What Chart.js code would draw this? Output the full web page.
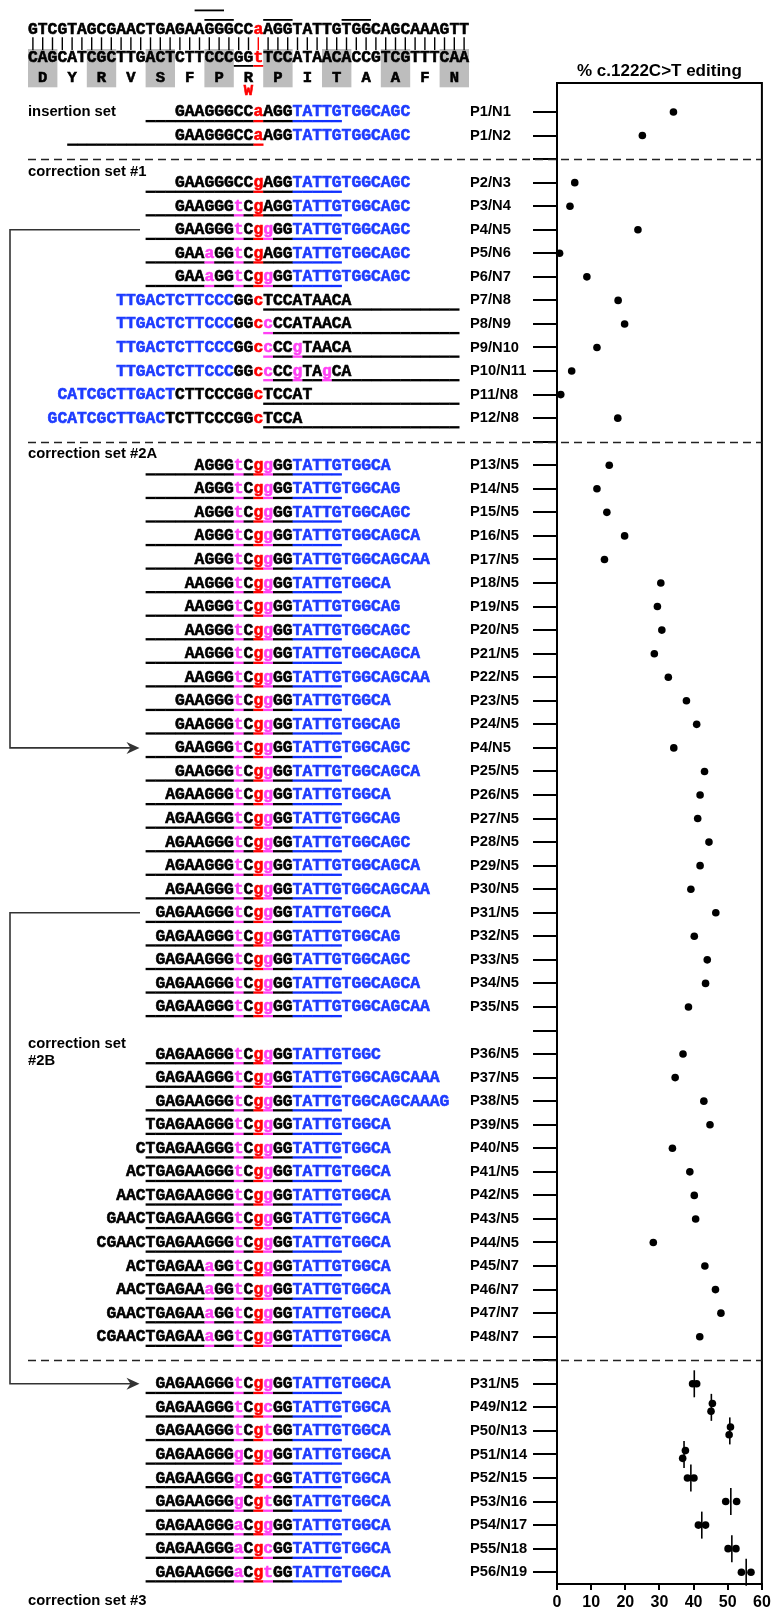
<!DOCTYPE html>
<html>
<head>
<meta charset="utf-8">
<script src="https://cdn.jsdelivr.net/npm/chart.js@4.4.1/dist/chart.umd.min.js"></script>
<style>
  html, body { margin: 0; padding: 0; background: #fff; }
  canvas { display: block; }
</style>
</head>
<body>
<canvas id="editingChart" width="777" height="1609"></canvas>
<script>
// one entry per row slot, '' / null = spacer row
const rowLabels = [
  'P1/N1', 'P1/N2', '',
  'P2/N3', 'P3/N4', 'P4/N5', 'P5/N6', 'P6/N7', 'P7/N8', 'P8/N9', 'P9/N10', 'P10/N11', 'P11/N8', 'P12/N8', '',
  'P13/N5', 'P14/N5', 'P15/N5', 'P16/N5', 'P17/N5', 'P18/N5', 'P19/N5', 'P20/N5', 'P21/N5', 'P22/N5',
  'P23/N5', 'P24/N5', 'P4/N5', 'P25/N5', 'P26/N5', 'P27/N5', 'P28/N5', 'P29/N5', 'P30/N5',
  'P31/N5', 'P32/N5', 'P33/N5', 'P34/N5', 'P35/N5', '',
  'P36/N5', 'P37/N5', 'P38/N5', 'P39/N5', 'P40/N5', 'P41/N5', 'P42/N5', 'P43/N5', 'P44/N5',
  'P45/N7', 'P46/N7', 'P47/N7', 'P48/N7', '',
  'P31/N5', 'P49/N12', 'P50/N13', 'P51/N14', 'P52/N15', 'P53/N16', 'P54/N17', 'P55/N18', 'P56/N19'
];

// [..] = blue stretch, * = edited base (red), other lowercase = extra edits
const sequences = [
  'GAAGGGCC*aAGG[TATTGTGGCAGC]', 'GAAGGGCC*aAGG[TATTGTGGCAGC]', null,
  'GAAGGGCC*gAGG[TATTGTGGCAGC]', 'GAAGGGtC*gAGG[TATTGTGGCAGC]', 'GAAGGGtC*ggGG[TATTGTGGCAGC]',
  'GAAaGGtC*gAGG[TATTGTGGCAGC]', 'GAAaGGtC*ggGG[TATTGTGGCAGC]',
  '[TTGACTCTTCCC]GG*cTCCATAACA', '[TTGACTCTTCCC]GG*ccCCATAACA', '[TTGACTCTTCCC]GG*ccCCgTAACA',
  '[TTGACTCTTCCC]GG*ccCCgTAgCA', '[CATCGCTTGACT]CTTCCCGG*cTCCAT', '[GCATCGCTTGAC]TCTTCCCGG*cTCCA', null,
  'AGGGtC*ggGG[TATTGTGGCA]', 'AGGGtC*ggGG[TATTGTGGCAG]', 'AGGGtC*ggGG[TATTGTGGCAGC]',
  'AGGGtC*ggGG[TATTGTGGCAGCA]', 'AGGGtC*ggGG[TATTGTGGCAGCAA]',
  'AAGGGtC*ggGG[TATTGTGGCA]', 'AAGGGtC*ggGG[TATTGTGGCAG]', 'AAGGGtC*ggGG[TATTGTGGCAGC]',
  'AAGGGtC*ggGG[TATTGTGGCAGCA]', 'AAGGGtC*ggGG[TATTGTGGCAGCAA]',
  'GAAGGGtC*ggGG[TATTGTGGCA]', 'GAAGGGtC*ggGG[TATTGTGGCAG]', 'GAAGGGtC*ggGG[TATTGTGGCAGC]',
  'GAAGGGtC*ggGG[TATTGTGGCAGCA]',
  'AGAAGGGtC*ggGG[TATTGTGGCA]', 'AGAAGGGtC*ggGG[TATTGTGGCAG]', 'AGAAGGGtC*ggGG[TATTGTGGCAGC]',
  'AGAAGGGtC*ggGG[TATTGTGGCAGCA]', 'AGAAGGGtC*ggGG[TATTGTGGCAGCAA]',
  'GAGAAGGGtC*ggGG[TATTGTGGCA]', 'GAGAAGGGtC*ggGG[TATTGTGGCAG]', 'GAGAAGGGtC*ggGG[TATTGTGGCAGC]',
  'GAGAAGGGtC*ggGG[TATTGTGGCAGCA]', 'GAGAAGGGtC*ggGG[TATTGTGGCAGCAA]', null,
  'GAGAAGGGtC*ggGG[TATTGTGGC]', 'GAGAAGGGtC*ggGG[TATTGTGGCAGCAAA]', 'GAGAAGGGtC*ggGG[TATTGTGGCAGCAAAG]',
  'TGAGAAGGGtC*ggGG[TATTGTGGCA]', 'CTGAGAAGGGtC*ggGG[TATTGTGGCA]', 'ACTGAGAAGGGtC*ggGG[TATTGTGGCA]',
  'AACTGAGAAGGGtC*ggGG[TATTGTGGCA]', 'GAACTGAGAAGGGtC*ggGG[TATTGTGGCA]', 'CGAACTGAGAAGGGtC*ggGG[TATTGTGGCA]',
  'ACTGAGAAaGGtC*ggGG[TATTGTGGCA]', 'AACTGAGAAaGGtC*ggGG[TATTGTGGCA]',
  'GAACTGAGAAaGGtC*ggGG[TATTGTGGCA]', 'CGAACTGAGAAaGGtC*ggGG[TATTGTGGCA]', null,
  'GAGAAGGGtC*ggGG[TATTGTGGCA]', 'GAGAAGGGtC*gcGG[TATTGTGGCA]', 'GAGAAGGGtC*gtGG[TATTGTGGCA]',
  'GAGAAGGGgC*ggGG[TATTGTGGCA]', 'GAGAAGGGgC*gcGG[TATTGTGGCA]', 'GAGAAGGGgC*gtGG[TATTGTGGCA]',
  'GAGAAGGGaC*ggGG[TATTGTGGCA]', 'GAGAAGGGaC*gcGG[TATTGTGGCA]', 'GAGAAGGGaC*gtGG[TATTGTGGCA]'
];

// % c.1222C>T editing (first replicate / single value)
const editing = [
  34.1, 25.0, null,
  5.2, 3.8, 23.7, 0.75, 8.75, 17.9, 19.8, 11.7, 4.3, 1.1, 17.8, null,
  15.3, 11.7, 14.6, 19.8, 13.9, 30.4, 29.4, 30.7, 28.5, 32.6,
  37.9, 40.9, 34.2, 43.2, 41.9, 41.2, 44.5, 41.9, 39.2,
  46.5, 40.2, 44.0, 43.5, 38.5, null,
  36.9, 34.6, 43.0, 44.8, 33.8, 38.9, 40.2, 40.6, 28.2, 43.3, 46.4, 48.0, 41.8, null,
  39.7, 45.5, 50.8, 37.6, 38.2, 49.4, 41.4, 50.1, 54.0
];
// correction set #3: second replicate and mean
const set3Second = [40.9, 45.1, 50.4, 36.8, 40.1, 52.6, 43.5, 52.4, 56.8];
const set3Mean = [40.2, 45.2, 50.6, 37.2, 39.2, 50.9, 42.4, 51.2, 55.4];

const groupNames = ['insertion set', 'correction set #1', 'correction set #2A', 'correction set', '#2B', 'correction set #3'];

const topStrand = 'GTCGTAGCGAACTGAGAAGGGCCaAGGTATTGTGGCAGCAAAGTT';
const bottomStrand = 'CAGCATCGCTTGACTCTTCCCGGtTCCATAACACCGTCGTTTCAA';
const aminoAcids = 'DYRVSFPRPITAAFN';

const EDIT_COL = 23;
const COL_W = 9.8;
const X0 = 28;
const colX = c => X0 + c * COL_W;
const MONO = 'bold 16.33px "Liberation Mono", "Courier New", monospace';
const SANS = '"Liberation Sans", Arial, sans-serif';
const RED = '#ff0000';
const MAGENTA = '#ff40f4';
const BLUE = '#1e3cff';

const set3Start = rowLabels.length - set3Second.length;

const parseSeq = (s) => {
  const out = [];
  let blue = false;
  let red = false;
  for (const ch of s) {
    if (ch === '[') { blue = true; continue; }
    if (ch === ']') { blue = false; continue; }
    if (ch === '*') { red = true; continue; }
    const lower = ch !== ch.toUpperCase();
    let color = '#000';
    if (red) color = RED;
    else if (lower) color = MAGENTA;
    else if (blue) color = BLUE;
    out.push({ ch, color, lower: lower || red });
    red = false;
  }
  const redIdx = out.findIndex(o => o.color === RED);
  out.forEach((o, i) => { o.col = EDIT_COL - redIdx + i; });
  return out;
};

// which columns the guide underline covers
const guideSpan = (label, seq) => {
  if (seq.startsWith('[')) return { from: 24, to: 43, blueFrom: 99 };
  if (label === 'P1/N2') return { from: 4, to: 23, blueFrom: 99 };
  return { from: 12, to: 31, blueFrom: 27 };
};

// heavier glyphs, closer to the bold courier of the original
const boldChar = (ctx, ch, x, y, color) => {
  ctx.fillStyle = color;
  ctx.strokeStyle = color;
  ctx.lineWidth = 0.6;
  ctx.fillText(ch, x, y);
  ctx.strokeText(ch, x, y);
};

const drawHeader = (ctx) => {
  ctx.save();
  // grey codon boxes
  ctx.fillStyle = '#bdbdbd';
  for (let k = 0; k < aminoAcids.length; k += 2) {
    ctx.fillRect(colX(k * 3), 49, COL_W * 3, 38.3);
  }
  ctx.font = MONO;
  ctx.textBaseline = 'alphabetic';
  ctx.textAlign = 'left';
  [...topStrand].forEach((ch, i) => boldChar(ctx, ch, colX(i), 34, i === EDIT_COL ? RED : '#000'));
  [...bottomStrand].forEach((ch, i) => boldChar(ctx, ch, colX(i), 61.7, i === EDIT_COL ? RED : '#000'));
  // base pairing bars
  ctx.lineWidth = 1.4;
  for (let i = 0; i < topStrand.length; i++) {
    ctx.strokeStyle = i === EDIT_COL ? RED : '#000';
    ctx.beginPath();
    ctx.moveTo(colX(i) + COL_W / 2, 37.3);
    ctx.lineTo(colX(i) + COL_W / 2, 50);
    ctx.stroke();
  }
  // PAM overlines
  ctx.fillStyle = '#000';
  ctx.fillRect(colX(17), 9.5, COL_W * 3, 1.8);
  [18, 24, 32].forEach(c => ctx.fillRect(colX(c), 19, COL_W * 3, 1.8));
  // underline below codon
  ctx.fillRect(colX(21), 65, COL_W * 2, 1.8);
  ctx.fillStyle = RED;
  ctx.fillRect(colX(23), 65, COL_W, 1.8);
  // amino acids
  ctx.font = 'bold 15.5px "Liberation Mono", "Courier New", monospace';
  ctx.textAlign = 'center';
  [...aminoAcids].forEach((aa, k) => boldChar(ctx, aa, colX(k * 3) + COL_W * 1.5, 81.7, '#000'));
  boldChar(ctx, 'W', colX(21) + COL_W * 1.5, 95, RED);
  ctx.restore();
};

const drawRows = (ctx, yScale) => {
  ctx.save();
  ctx.font = MONO;
  ctx.textAlign = 'left';
  ctx.textBaseline = 'alphabetic';
  sequences.forEach((seq, slot) => {
    if (!seq) return;
    const y = yScale.getPixelForValue(slot);
    const chars = parseSeq(seq);
    chars.forEach(o => boldChar(ctx, o.ch, colX(o.col), y + 4.5, o.color));
    const span = guideSpan(rowLabels[slot], seq);
    for (let c = span.from; c <= span.to; c++) {
      const o = chars.find(p => p.col === c);
      if (o && o.lower) ctx.fillStyle = o.color;
      else if (c >= span.blueFrom) ctx.fillStyle = '#1030ff';
      else ctx.fillStyle = '#000';
      ctx.fillRect(colX(c), y + 8, COL_W + 0.3, 2.3);
    }
  });
  ctx.restore();
};

const drawArrow = (ctx, yFrom, yTo) => {
  ctx.save();
  ctx.strokeStyle = '#333';
  ctx.fillStyle = '#333';
  ctx.lineWidth = 1.6;
  ctx.beginPath();
  ctx.moveTo(140, yFrom);
  ctx.lineTo(10, yFrom);
  ctx.lineTo(10, yTo);
  ctx.lineTo(131, yTo);
  ctx.stroke();
  ctx.beginPath();
  ctx.moveTo(139.5, yTo);
  ctx.lineTo(126.5, yTo - 6);
  ctx.lineTo(130.5, yTo);
  ctx.lineTo(126.5, yTo + 6);
  ctx.closePath();
  ctx.fill();
  ctx.restore();
};

const panelPlugin = {
  id: 'panel',
  afterDraw(chart) {
    const { ctx, chartArea: area } = chart;
    const yScale = chart.scales.y;
    drawHeader(ctx);
    drawRows(ctx, yScale);

    // frame top + right
    ctx.save();
    ctx.strokeStyle = '#000';
    ctx.lineWidth = 2;
    ctx.beginPath();
    ctx.moveTo(area.left, area.top);
    ctx.lineTo(area.right, area.top);
    ctx.lineTo(area.right, area.bottom);
    ctx.stroke();

    // dashed separators at empty slots between sets
    ctx.strokeStyle = '#222';
    ctx.lineWidth = 1.5;
    ctx.setLineDash([8, 5]);
    [2, 14, 53].forEach(slot => {
      const y = Math.round(yScale.getPixelForValue(slot)) + 0.5;
      ctx.beginPath();
      ctx.moveTo(X0, y);
      ctx.lineTo(area.right, y);
      ctx.stroke();
    });
    ctx.setLineDash([]);

    // title
    ctx.fillStyle = '#000';
    ctx.font = 'bold 17px ' + SANS;
    ctx.textAlign = 'center';
    ctx.textBaseline = 'middle';
    ctx.fillText('% c.1222C>T editing', (area.left + area.right) / 2, 71);

    // set names
    ctx.font = 'bold 14.8px ' + SANS;
    ctx.textAlign = 'left';
    const namePos = [0, 2.53, 14.5, 39.55, 40.3, 63.2];
    groupNames.forEach((name, i) => {
      ctx.fillText(name, X0, yScale.getPixelForValue(namePos[i]));
    });
    ctx.restore();

    drawArrow(ctx, yScale.getPixelForValue(5), yScale.getPixelForValue(27));
    drawArrow(ctx, yScale.getPixelForValue(34), yScale.getPixelForValue(54));
  }
};

const pointData = [];
editing.forEach((v, slot) => {
  if (v === null) return;
  let y = slot;
  const j = slot - set3Start;
  if (j >= 0 && Math.abs(v - set3Second[j]) < 1) y -= 0.165;
  pointData.push({ x: v, y });
});
set3Second.forEach((v, j) => {
  const slot = set3Start + j;
  const close = Math.abs(v - editing[slot]) < 1;
  pointData.push({ x: v, y: close ? slot + 0.165 : slot });
});
const meanData = set3Mean.map((v, j) => ({ x: v, y: set3Start + j }));

new Chart(document.getElementById('editingChart'), {
  type: 'scatter',
  data: {
    datasets: [
      {
        data: pointData,
        pointRadius: 3.8,
        pointBackgroundColor: '#000',
        pointBorderWidth: 0,
        clip: false
      },
      {
        data: meanData,
        pointStyle: 'line',
        pointRotation: 90,
        pointRadius: 13.5,
        pointBorderWidth: 1.6,
        pointBorderColor: '#000',
        clip: false
      }
    ]
  },
  options: {
    responsive: false,
    animation: false,
    events: [],
    layout: { padding: { left: 470, top: 83, right: 10, bottom: 0 } },
    plugins: { legend: { display: false }, tooltip: { enabled: false }, title: { display: false } },
    scales: {
      x: {
        type: 'linear',
        min: 0,
        max: 60,
        ticks: { stepSize: 10, color: '#000', font: { family: SANS, size: 16, weight: 'bold' } },
        grid: { drawOnChartArea: false, tickLength: 6, tickWidth: 2, tickColor: '#000', lineWidth: 2, color: '#000' },
        border: { color: '#000', width: 2 },
        afterFit: (scale) => { scale.height = 25; }
      },
      y: {
        type: 'linear',
        reverse: true,
        min: -1.23,
        max: 62.5,
        afterBuildTicks: (scale) => { scale.ticks = rowLabels.map((_, i) => ({ value: i })); },
        ticks: {
          autoSkip: false,
          crossAlign: 'far',
          color: '#000',
          font: { family: SANS, size: 14.7, weight: 'bold' },
          callback: (value) => rowLabels[value]
        },
        grid: { drawOnChartArea: false, tickLength: 24, tickWidth: 2, tickColor: '#000', lineWidth: 2, color: '#000' },
        border: { color: '#000', width: 2 },
        afterFit: (scale) => { scale.width = 87; }
      }
    }
  },
  plugins: [panelPlugin]
});
</script>
</body>
</html>
